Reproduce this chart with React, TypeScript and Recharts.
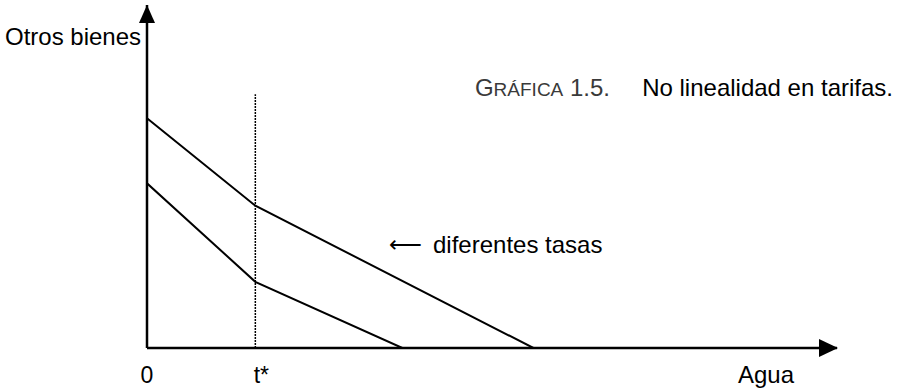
import { LineChart, Line, XAxis, YAxis, ReferenceLine, ReferenceDot, Label } from "recharts"

// conceptual axes, both run 0..100
const axisMax = 100
const tStar = 15.7
const tStarTop = 74
const ticks = [0, tStar]
const tickLabels = ["0", "t*"]

const upperRate = [
  { agua: 0, otros: 67 },
  { agua: tStar, otros: 41.5 },
  { agua: 56, otros: 0 },
]
const lowerRate = [
  { agua: 0, otros: 48 },
  { agua: tStar, otros: 19.3 },
  { agua: 37, otros: 0 },
]

const font = "'Liberation Sans', Arial, sans-serif"

function Tick(props: any) {
  const { x, y, index } = props
  return (
    <text x={x} y={y} dy={14} dx={index === 1 ? 6 : 0} textAnchor="middle" fontSize={23} fontFamily={font} fill="#000">
      {tickLabels[index]}
    </text>
  )
}

function Notes() {
  return (
    <g fontFamily={font} fontSize={24} fill="#000">
      <text x={610} y={96} textAnchor="end" fill="#3a3a3a">
        <tspan>G</tspan>
        <tspan fontSize={19}>RÁFICA</tspan>
        <tspan> 1.5.</tspan>
      </text>
      <text x={893} y={96} textAnchor="end">No linealidad en tarifas.</text>
      <text x={389} y={252} fontFamily="'DejaVu Sans', sans-serif" fontSize={23}>⟵</text>
      <text x={433} y={253}>diferentes tasas</text>
    </g>
  )
}

export default function App() {
  return (
    <div style={{ position: "absolute", left: 0, top: 0, background: "#fff" }}>
      <LineChart width={901} height={389} margin={{ top: 5, right: 64, bottom: 0, left: 0 }}>
        <XAxis
          type="number"
          dataKey="agua"
          domain={[0, axisMax]}
          ticks={ticks}
          interval={0}
          height={41}
          allowDataOverflow
          axisLine={{ stroke: "#000", strokeWidth: 2.5 }}
          tickLine={false}
          tickSize={0}
          tickMargin={21}
          tick={<Tick />}
        >
          <Label
            content={() => (
              <text x={738} y={383} fontSize={24} fontFamily={font} fill="#000">Agua</text>
            )}
          />
        </XAxis>
        <YAxis
          type="number"
          dataKey="otros"
          domain={[0, axisMax]}
          width={147}
          allowDataOverflow
          axisLine={{ stroke: "#000", strokeWidth: 2.5 }}
          tick={false}
          tickLine={false}
        >
          <Label
            content={() => (
              <text x={5} y={45} fontSize={24} fontFamily={font} fill="#000">Otros bienes</text>
            )}
          />
        </YAxis>
        <ReferenceLine
          segment={[{ x: tStar, y: 0 }, { x: tStar, y: tStarTop }]}
          stroke="#000"
          strokeWidth={1.5}
          strokeDasharray="2 1"
          ifOverflow="visible"
        />
        <Line data={upperRate} dataKey="otros" type="linear" stroke="#000" strokeWidth={2} dot={false} isAnimationActive={false} />
        <Line data={lowerRate} dataKey="otros" type="linear" stroke="#000" strokeWidth={2} dot={false} isAnimationActive={false} />
        <ReferenceDot
          x={axisMax}
          y={0}
          ifOverflow="visible"
          shape={(p: any) => <path d={`M${p.cx + 1},${p.cy} L${p.cx - 18},${p.cy - 9} L${p.cx - 18},${p.cy + 9} Z`} fill="#000" />}
        />
        <ReferenceDot
          x={0}
          y={axisMax}
          ifOverflow="visible"
          shape={(p: any) => <path d={`M${p.cx},${p.cy} L${p.cx - 8},${p.cy + 18} L${p.cx + 8},${p.cy + 18} Z`} fill="#000" />}
        />
        <Notes />
      </LineChart>
    </div>
  )
}
